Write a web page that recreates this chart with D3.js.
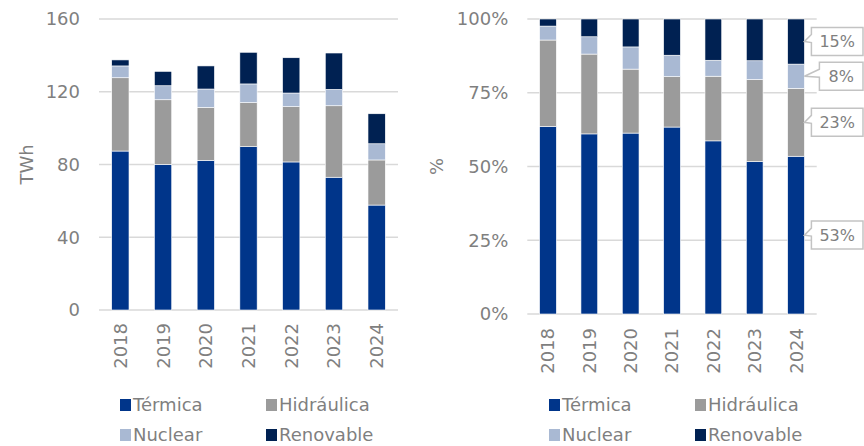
<!DOCTYPE html>
<html>
<head>
<meta charset="utf-8">
<script src="https://cdn.jsdelivr.net/npm/d3@7"></script>
<style>
body{margin:0;background:#fff;}
svg{display:block;font-family:"DejaVu Sans",Verdana,sans-serif;}
</style>
</head>
<body>
<div id="chart"></div>
<script>
// generacion por fuente, TWh
let years=["2018","2019","2020","2021","2022","2023","2024"];
let termica=[87.4,80.1,82.3,89.8,81.4,73.0,57.7];
let hidraulica=[40.3,35.5,29.1,24.2,30.4,39.3,24.8];
let nuclear=[6.5,7.7,10.1,10.3,7.5,9.0,8.9];
let renovable=[3.3,7.9,12.7,17.4,19.4,20.0,16.5];
let seriesNames=["Térmica","Hidráulica","Nuclear","Renovable"];
let leftTicks=[0,40,80,120,160];
let rightTicks=[0,0.25,0.5,0.75,1];

let colors=["#00358a","#9b9b9b","#a9b9d3","#002152"];
let width=864, height=446;
let textGray="#7f7f7f";
let gridGray="#d9d9d9";

let rows=years.map((y,i)=>({year:y,"Térmica":termica[i],"Hidráulica":hidraulica[i],"Nuclear":nuclear[i],"Renovable":renovable[i]}));

let svg=d3.select("#chart").append("svg").attr("width",width).attr("height",height);

function panel(opt){
  let x=d3.scaleBand().domain(years).range([opt.x0,opt.x1]).paddingInner(0.595).paddingOuter(0.2975);
  let y=d3.scaleLinear().domain(opt.domain).range([opt.y0,opt.y1]);
  let g=svg.append("g");

  g.append("g").selectAll("line").data(opt.ticks).enter().append("line")
   .attr("x1",opt.x0).attr("x2",opt.x1)
   .attr("y1",d=>y(d)).attr("y2",d=>y(d))
   .attr("stroke",gridGray).attr("stroke-width",1.5);

  g.append("g").selectAll("text").data(opt.ticks).enter().append("text")
   .attr("x",opt.x0-19).attr("y",d=>y(d)).attr("dy","0.36em")
   .attr("text-anchor","end").attr("fill",textGray).style("font-size","18px")
   .text(opt.fmt);

  let stack=d3.stack().keys(seriesNames);
  if(opt.expand) stack.offset(d3.stackOffsetExpand);
  let layers=stack(rows);

  g.append("g").selectAll("g").data(layers).enter().append("g")
   .attr("fill",(d,i)=>colors[i])
   .selectAll("rect").data(d=>d).enter().append("rect")
   .attr("x",d=>x(d.data.year))
   .attr("width",x.bandwidth())
   .attr("y",d=>y(d[1]))
   .attr("height",d=>y(d[0])-y(d[1]))
   .attr("stroke","#ffffff").attr("stroke-width",0.6);

  g.append("g").selectAll("text").data(years).enter().append("text")
   .attr("transform",d=>"translate("+(x(d)+x.bandwidth()/2)+","+(opt.y0+opt.labelGap)+") rotate(-90)")
   .attr("dy","0.36em").attr("text-anchor","end")
   .attr("fill",textGray).style("font-size","18px").text(d=>d);

  g.append("text")
   .attr("transform","translate("+opt.titleX+","+((opt.y0+opt.y1)/2)+") rotate(-90)")
   .attr("dy","0.36em").attr("text-anchor","middle")
   .attr("fill",textGray).style("font-size","18px").text(opt.title);

  // leyenda
  let leg=g.append("g").selectAll("g").data(seriesNames).enter().append("g")
   .attr("transform",(d,i)=>"translate("+(opt.legX+(i%2)*146)+","+(405+Math.floor(i/2)*30)+")");
  leg.append("rect").attr("x",0).attr("y",-6).attr("width",11).attr("height",12)
   .attr("fill",(d,i)=>colors[i]);
  leg.append("text").attr("x",13).attr("dy","0.36em")
   .attr("fill",textGray).style("font-size","18px").text(d=>d);

  return {x,y,g,layers};
}

let left=panel({x0:99,x1:398,y0:310,y1:19,domain:[0,160],ticks:leftTicks,fmt:d=>d,
  labelGap:13,title:"TWh",titleX:27,legX:120,expand:false});

let right=panel({x0:527.3,x1:816.7,y0:314,y1:19,domain:[0,1],ticks:rightTicks,fmt:d3.format(".0%"),
  labelGap:14,title:"%",titleX:437,legX:549,expand:true});

// etiquetas 2024
let last=years.length-1;
let pct=d3.format(".0%");
let barRight=right.x(years[last])+right.x.bandwidth();
let calloutGap=[7,7,15,7];
right.layers.forEach((layer,i)=>{
  let d=layer[last];
  let share=d[1]-d[0];
  let my=right.y((d[0]+d[1])/2);
  let grp=svg.append("g");
  let t=grp.append("text").attr("fill",textGray).style("font-size","16px")
    .attr("dy","0.36em").text(pct(share));
  let bx=barRight+calloutGap[i], bw=863-bx, bh=28, by=my-14;
  t.attr("x",bx+bw/2).attr("y",my).attr("text-anchor","middle");
  let tipX=barRight, tipY=my;
  let path="M"+bx+","+by+" H"+(bx+bw)+" V"+(by+bh)+" H"+bx+" V"+(my+1)+" L"+tipX+","+tipY+" L"+bx+","+(my-7)+" Z";
  grp.insert("path","text").attr("d",path).attr("fill","#fff").attr("stroke","#c3c3c3").attr("stroke-width",1.5);
});
</script>
</body>
</html>
